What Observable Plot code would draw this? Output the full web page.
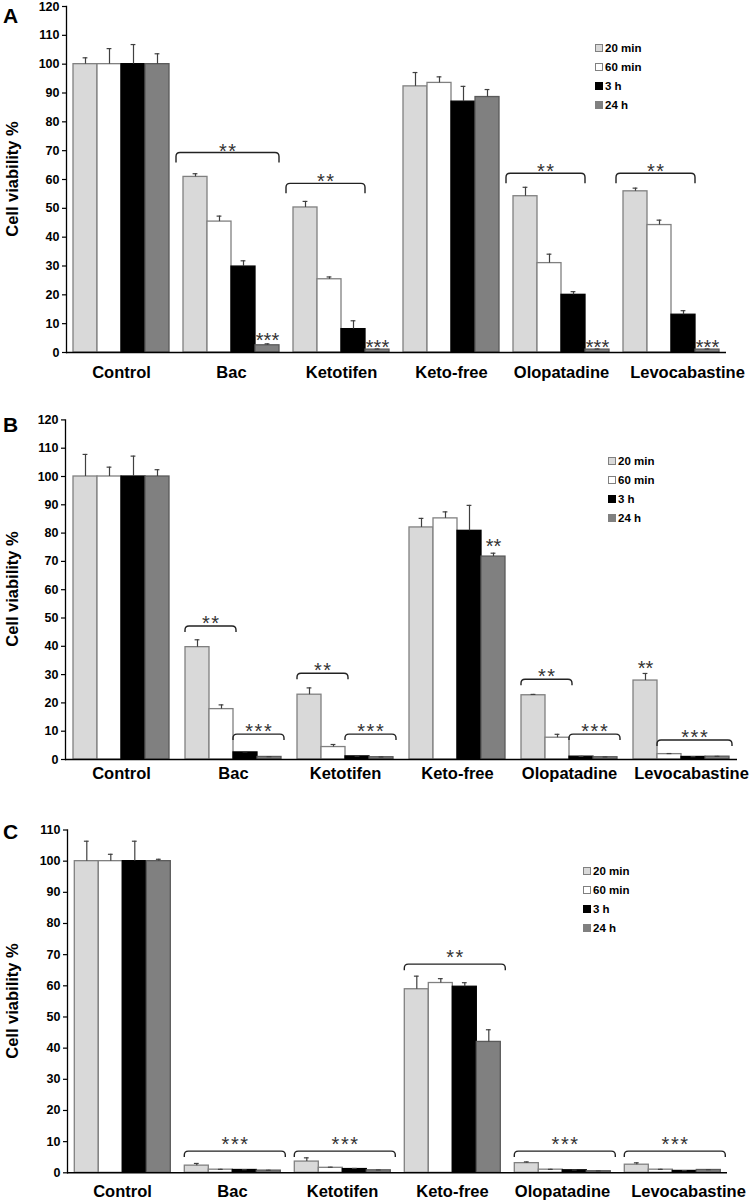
<!DOCTYPE html>
<html>
<head>
<meta charset="utf-8">
<script src="https://cdn.jsdelivr.net/npm/d3@7"></script>
<script src="https://cdn.jsdelivr.net/npm/@observablehq/plot@0.6"></script>
<style>
  html, body { margin: 0; padding: 0; background: #fff; }
  body { font-family: "Liberation Sans", Arial, sans-serif; color: #000; }
  #chart { position: relative; width: 750px; height: 1202px; overflow: hidden; }
  .panel { position: absolute; left: 0; width: 750px; }
  .panel svg { display: block; }
  .letter { position: absolute; left: 3px; font-size: 21px; line-height: 21px; font-weight: bold; }
  .ytitle { position: absolute; font-size: 16.5px; font-weight: bold; white-space: nowrap;
            transform: translate(-50%, -50%) rotate(-90deg); line-height: 1; }
  .legend { position: absolute; font-size: 11.5px; font-weight: bold; }
  .legend .row { display: flex; align-items: center; height: 19px; }
  .legend .sw { width: 6px; height: 6px; border: 1px solid #808080; margin-right: 2px; }
  g[aria-label="sig"] text { letter-spacing: 1.5px; }
</style>
</head>
<body>
<div id="chart"></div>
<script>
// ---------- data ----------
const groups = ["Control", "Bac", "Ketotifen", "Keto-free", "Olopatadine", "Levocabastine"];
const series = ["20 min", "60 min", "3 h", "24 h"];
const seriesFill = ["#d9d9d9", "#ffffff", "#000000", "#808080"];
const seriesStroke = ["#808080", "#808080", "#000000", "#5a5a5a"];
const ticksAB = [0, 10, 20, 30, 40, 50, 60, 70, 80, 90, 100, 110, 120];
const ticksC = [0, 10, 20, 30, 40, 50, 60, 70, 80, 90, 100, 110];

// Panel A (rows = groups, columns = series)
const valuesA = [[100, 100, 100, 100], [60.9, 45.4, 29.8, 2.5], [50.3, 25.4, 8.1, 1.0],
                 [92.3, 93.5, 87.0, 88.6], [54.2, 31.0, 20.0, 1.0], [55.9, 44.2, 13.1, 1.0]];
const errorsA = [[2.2, 5.4, 6.8, 3.6], [1.1, 1.9, 2.0, 0.5], [2.1, 0.8, 2.9, 0.2],
                 [4.8, 2.1, 5.3, 2.6], [3.1, 3.1, 1.1, 0.2], [1.1, 1.7, 1.4, 0.2]];
const bracketsA = [
  {group: "Bac", from: "20 min", to: "24 h", y: 69.2, label: "**"},
  {group: "Ketotifen", from: "20 min", to: "3 h", y: 58.5, label: "**"},
  {group: "Olopatadine", from: "20 min", to: "3 h", y: 62, label: "**"},
  {group: "Levocabastine", from: "20 min", to: "3 h", y: 62, label: "**"}
];
const starsA = [
  {group: "Bac", series: "24 h", y: 5.9, label: "***"},
  {group: "Ketotifen", series: "24 h", y: 3.6, label: "***"},
  {group: "Olopatadine", series: "24 h", y: 3.6, label: "***"},
  {group: "Levocabastine", series: "24 h", y: 3.6, label: "***"}
];

// Panel B
const valuesB = [[100, 100, 100, 100], [39.7, 17.8, 2.5, 0.9], [22.9, 4.4, 1.1, 0.8],
                 [82.0, 85.2, 80.8, 71.7], [22.7, 7.7, 1.0, 0.8], [27.9, 1.9, 0.9, 1.0]];
const errorsB = [[7.8, 3.3, 7.2, 2.4], [2.6, 1.5, 0.2, 0.1], [2.4, 0.9, 0.1, 0.1],
                 [3.2, 2.3, 9.0, 1.2], [0.3, 1.2, 0.1, 0.1], [2.5, 0.2, 0.1, 0.1]];
const bracketsB = [
  {group: "Bac", from: "20 min", to: "60 min", y: 47, label: "**"},
  {group: "Bac", from: "3 h", to: "24 h", y: 8.8, label: "***"},
  {group: "Ketotifen", from: "20 min", to: "60 min", y: 30.3, label: "**"},
  {group: "Ketotifen", from: "3 h", to: "24 h", y: 8.8, label: "***"},
  {group: "Olopatadine", from: "20 min", to: "60 min", y: 28.2, label: "**"},
  {group: "Olopatadine", from: "3 h", to: "24 h", y: 8.8, label: "***"},
  {group: "Levocabastine", from: "60 min", to: "24 h", y: 6.7, label: "***"}
];
const starsB = [
  {group: "Keto-free", series: "24 h", y: 77, label: "**"},
  {group: "Levocabastine", series: "20 min", y: 34, label: "**"}
];

// Panel C
const valuesC = [[100, 100, 100, 100], [2.3, 1.0, 0.9, 0.7], [3.6, 1.6, 1.2, 0.8],
                 [58.9, 60.9, 59.7, 42.0], [3.1, 1.0, 0.8, 0.5], [2.6, 1.0, 0.6, 0.9]];
const errorsC = [[6.4, 2.2, 6.4, 0.6], [0.7, 0.1, 0.1, 0.1], [1.2, 0.2, 0.2, 0.1],
                 [4.2, 1.4, 1.3, 3.9], [0.4, 0.1, 0.1, 0.1], [0.6, 0.1, 0.1, 0.1]];
const bracketsC = [
  {group: "Bac", from: "20 min", to: "24 h", y: 6.8, label: "***"},
  {group: "Ketotifen", from: "20 min", to: "24 h", y: 6.8, label: "***"},
  {group: "Keto-free", from: "20 min", to: "24 h", y: 66.8, label: "**"},
  {group: "Olopatadine", from: "20 min", to: "24 h", y: 6.8, label: "***"},
  {group: "Levocabastine", from: "20 min", to: "24 h", y: 6.8, label: "***"}
];
const starsC = [];

// ---------- layout ----------
const panels = [
  {letter: "A", top: 0, height: 390, mL: 63, mR: 22, mT: 6, mB: 38, yDomain: [0, 120], ticks: ticksAB,
   values: valuesA, errors: errorsA, brackets: bracketsA, stars: starsA, fxPad: 13.5, lastShift: 16,
   br: {extL: 7, extR: 0, drop: 10, gap: 6.5}, letterTop: 4.5, legend: {x: 595, y: 38}},
  {letter: "B", top: 390, height: 390, mL: 64, mR: 13, mT: 29.4, mB: 21, yDomain: [0, 120], ticks: ticksAB,
   values: valuesB, errors: errorsB, brackets: bracketsB, stars: starsB, fxPad: 8, lastShift: 10,
   br: {extL: 0, extR: 3, drop: 6, gap: 7.7}, letterTop: 414, legend: {x: 608, y: 451.5}},
  {letter: "C", top: 780, height: 422, mL: 65.7, mR: 22, mT: 49.5, mB: 29.7, yDomain: [0, 110], ticks: ticksC,
   values: valuesC, errors: errorsC, brackets: bracketsC, stars: starsC, fxPad: 12.5, lastShift: 16,
   br: {extL: 0, extR: 5, drop: 6, gap: 11.5}, letterTop: 820.5, legend: {x: 583, y: 861.5}}
];

const STAR_SIZE = 20;

function bracketMark(data, br) {
  return Plot.ruleY(data, {
    fx: "group", x1: "from", x2: "to", y: "y", stroke: "#222",
    render(index, scales, values) {
      const bw = scales.x && scales.x.bandwidth ? scales.x.bandwidth() : 0;
      const g = d3.create("svg:g");
      for (const i of index) {
        const xa = values.x1[i] - br.extL;
        const xb = values.x2[i] + bw + br.extR;
        const y = values.y[i];
        const h = br.drop, r = Math.min(4, h);
        g.append("path")
          .attr("fill", "none").attr("stroke", "#222").attr("stroke-width", 1.4)
          .attr("d", `M${xa},${y + h}L${xa},${y + r}Q${xa},${y} ${xa + r},${y}L${xb - r},${y}Q${xb},${y} ${xb},${y + r}L${xb},${y + h}`);
        g.append("text")
          .attr("x", (xa + xb) / 2 + 0.75).attr("y", y - br.gap + 0.58 * STAR_SIZE)
          .attr("text-anchor", "middle").attr("font-size", STAR_SIZE).attr("fill", "#333")
          .attr("letter-spacing", "1.5px").attr("font-weight", "normal")
          .text(data[i].label);
      }
      return g.node();
    }
  });
}

function makePanel(cfg, useSuper) {
  const rows = [];
  groups.forEach((g, i) => series.forEach((s, j) =>
    rows.push({group: g, series: s, value: cfg.values[i][j], top: cfg.values[i][j] + cfg.errors[i][j]})));

  const barMarks = series.map((s, k) =>
    Plot.barY(rows.filter(d => d.series === s), {
      fx: "group", x: "series", y: "value", fill: "series",
      stroke: seriesStroke[k], strokeWidth: 1.3, inset: 0
    }));

  const labelOpts = {fx: d => d, text: d => d, frameAnchor: "bottom", lineAnchor: "top", dy: cfg.fxPad,
    fontSize: 16.5, fontWeight: "bold", fill: "#000"};
  const marks = [
    ...barMarks,
    Plot.ruleX(rows, {fx: "group", x: "series", y1: "value", y2: "top", stroke: "#404040", strokeWidth: 1.2}),
    Plot.tickY(rows, {fx: "group", x: "series", y: "top", stroke: "#404040", strokeWidth: 1.2, inset: 9.6}),
    Plot.ruleY([0], {stroke: "#000", strokeWidth: 1.5}),
    bracketMark(cfg.brackets, cfg.br),
    Plot.text(cfg.stars, {fx: "group", x: "series", y: "y", text: "label", fontSize: STAR_SIZE,
      fill: "#333", dy: 5, ariaLabel: "sig"}),
    Plot.axisY(cfg.ticks, {anchor: "left", tickSize: 4, tickPadding: 3, fontSize: 12.5, fontWeight: "bold",
      label: null, strokeWidth: 1.2}),
    Plot.text(groups.slice(0, -1), labelOpts),
    Plot.text(groups.slice(-1), {...labelOpts, dx: cfg.lastShift})
  ];
  if (useSuper) marks.unshift(Plot.frame({anchor: "left", facet: "super", stroke: "#000", strokeWidth: 1.3}));

  return Plot.plot({
    width: 750, height: cfg.height,
    marginLeft: cfg.mL, marginRight: cfg.mR, marginTop: cfg.mT, marginBottom: cfg.mB,
    style: {fontFamily: "'Liberation Sans', Arial, sans-serif", color: "#000", background: "transparent", overflow: "visible"},
    fx: {domain: groups, padding: 0, label: null, axis: null},
    x: {domain: series, paddingInner: 0, paddingOuter: 0.28, axis: null},
    y: {domain: cfg.yDomain, label: null},
    color: {domain: series, range: seriesFill},
    marks
  });
}

const chart = document.getElementById("chart");
for (const cfg of panels) {
  const div = document.createElement("div");
  div.className = "panel";
  div.style.top = cfg.top + "px";
  div.style.height = cfg.height + "px";
  let svg;
  try { svg = makePanel(cfg, true); } catch (e) { svg = makePanel(cfg, false); }
  div.appendChild(svg);
  chart.appendChild(div);

  const letter = document.createElement("div");
  letter.className = "letter";
  letter.style.top = cfg.letterTop + "px";
  letter.textContent = cfg.letter;
  chart.appendChild(letter);

  const yt = document.createElement("div");
  yt.className = "ytitle";
  yt.style.left = "11.5px";
  yt.style.top = (cfg.top + cfg.mT + (cfg.height - cfg.mT - cfg.mB) / 2) + "px";
  yt.textContent = "Cell viability %";
  chart.appendChild(yt);

  const lg = document.createElement("div");
  lg.className = "legend";
  lg.style.left = cfg.legend.x + "px";
  lg.style.top = cfg.legend.y + "px";
  series.forEach((s, k) => {
    const row = document.createElement("div");
    row.className = "row";
    const sw = document.createElement("span");
    sw.className = "sw";
    sw.style.background = seriesFill[k];
    if (k === 2) sw.style.borderColor = "#000";
    const t = document.createElement("span");
    t.textContent = s;
    row.appendChild(sw); row.appendChild(t);
    lg.appendChild(row);
  });
  chart.appendChild(lg);
}
</script>
</body>
</html>
